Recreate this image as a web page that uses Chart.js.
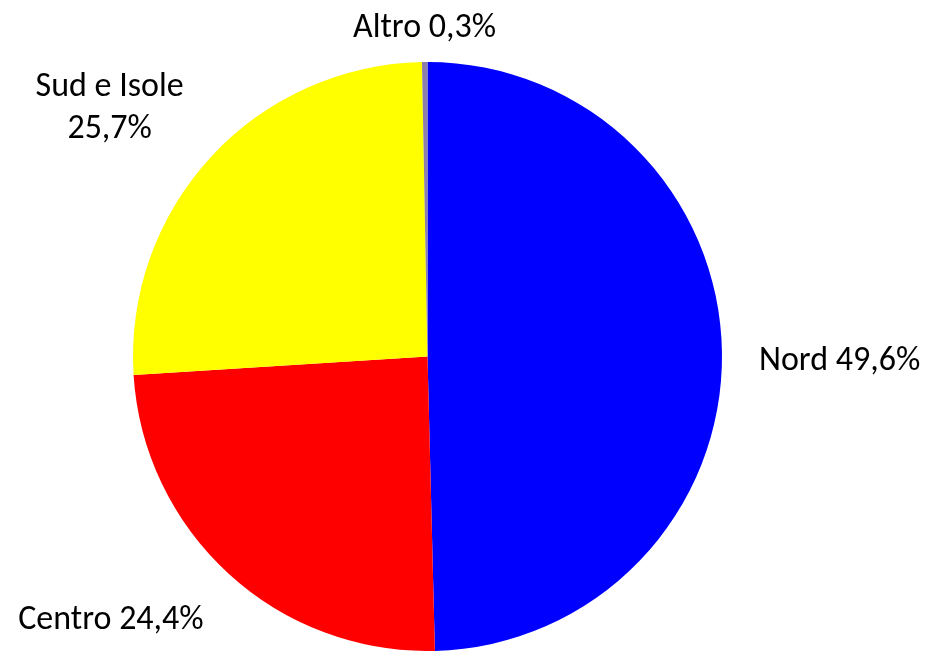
<!DOCTYPE html>
<html>
<head>
<meta charset="utf-8">
<title>Ripartizione</title>
<script src="https://cdn.jsdelivr.net/npm/chart.js@4.4.1/dist/chart.umd.min.js"></script>
<style>
    html, body { margin: 0; padding: 0; background: #fff; }
    #wrap { width: 925px; height: 651px; position: relative; }
</style>
</head>
<body>
<div id="wrap"><canvas id="pie"></canvas></div>
<script>
// Dati (quote percentuali)
const categories = ['Nord', 'Centro', 'Sud e Isole', 'Altro'];
const values = [49.6, 24.4, 25.7, 0.3];
const colors = ['#0000FF', '#FF0000', '#FFFF00', '#8C80AA'];
const wrapLabel = [false, false, true, false];

const fmt = (v) => v.toLocaleString('it-IT', { minimumFractionDigits: 1, maximumFractionDigits: 1 }) + '%';

// Etichette esterne in stile Excel
const outsideLabels = {
    id: 'outsideLabels',
    afterDatasetsDraw(chart) {
        const ctx = chart.ctx;
        const meta = chart.getDatasetMeta(0);
        ctx.save();
        ctx.font = '34px Carlito, "Liberation Sans", Arial, sans-serif';
        ctx.fillStyle = '#000';
        ctx.textAlign = 'center';
        ctx.textBaseline = 'alphabetic';
        const lineH = 42;
        meta.data.forEach((arc, i) => {
            const p = arc.getProps(['x', 'y', 'startAngle', 'endAngle', 'outerRadius'], true);
            const mid = (p.startAngle + p.endAngle) / 2;
            const dx = Math.cos(mid), dy = Math.sin(mid);
            const vertical = Math.abs(dx) < 0.3;
            const gap = vertical ? 25 : 37;
            const ax = p.x + (p.outerRadius + gap) * dx;
            const ay = p.y + (p.outerRadius + gap) * dy;
            const lines = wrapLabel[i]
                ? [categories[i], fmt(values[i])]
                : [categories[i] + ' ' + fmt(values[i])];
            const w = Math.max(...lines.map(l => ctx.measureText(l).width));
            let cx;
            if (dx > 0.3) cx = ax + w / 2;
            else if (dx < -0.3) cx = ax - w / 2;
            else cx = ax;
            // y0 = linea di base della prima riga
            let y0;
            if (dy < -0.3) y0 = ay - (lines.length - 1) * lineH + (vertical ? 0 : 6);
            else if (dy > 0.3) y0 = ay + 28;
            else y0 = ay + 18 - (lines.length - 1) * lineH / 2;
            lines.forEach((l, k) => ctx.fillText(l, cx, y0 + k * lineH));
        });
        ctx.restore();
    }
};

new Chart(document.getElementById('pie').getContext('2d'), {
    type: 'pie',
    data: {
        labels: categories,
        datasets: [{
            data: values,
            backgroundColor: colors,
            borderWidth: 0
        }]
    },
    options: {
        responsive: true,
        maintainAspectRatio: false,
        animation: false,
        layout: { padding: { left: 133, right: 203, top: 62, bottom: 0 } },
        plugins: {
            legend: { display: false },
            tooltip: { enabled: false }
        }
    },
    plugins: [outsideLabels]
});
</script>
</body>
</html>
